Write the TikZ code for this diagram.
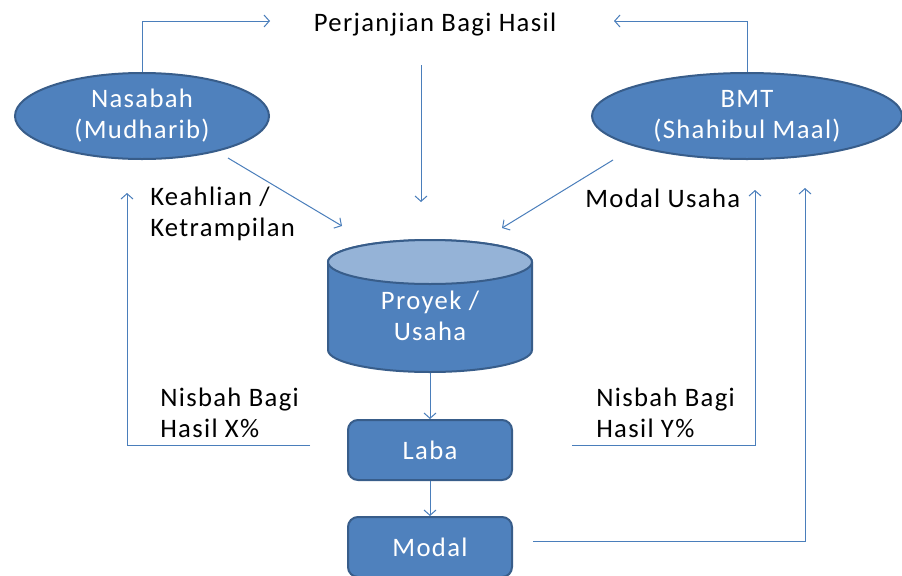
\documentclass[tikz,border=0pt]{standalone}
\usepackage{fontspec}
\setmainfont{Carlito}[LetterSpace=5]
\usetikzlibrary{arrows.meta,shapes.geometric}
\definecolor{fillblue}{HTML}{4F81BD}
\definecolor{edgeblue}{HTML}{385D8A}
\definecolor{lineblue}{HTML}{4A7EBB}
\definecolor{topblue}{HTML}{95B3D7}
\begin{document}
\begin{tikzpicture}[x=0.75pt,y=-0.75pt,
  blueshape/.style={fill=fillblue, draw=edgeblue, line width=1.5pt, text=white,
    font=\fontsize{20}{23.25}\selectfont, align=center},
  conn/.style={draw=lineblue, line width=0.75pt, -{Straight Barb[length=4pt,width=9pt]}},
  lbl/.style={font=\fontsize{20}{23.25}\selectfont, align=left, text=black, inner sep=0pt}]
\useasboundingbox (0,0) rectangle (902,575);
\fill[white] (0,0) rectangle (902,575);

% top label
\node[lbl] (pb) at (435,25) {Perjanjian Bagi Hasil};
\coordinate (pbL) at (270,21);
\coordinate (pbR) at (614,21);
\coordinate (pbD) at (421,65);

% ellipses
\node[blueshape, ellipse, minimum width=190.5pt, minimum height=64.5pt, inner sep=0pt] (nas) at (142,116) {Nasabah\\(Mudharib)};
\node[blueshape, ellipse, minimum width=232.5pt, minimum height=64.5pt, inner sep=0pt] (bmt) at (747,116) {BMT\\(Shahibul Maal)};

% cylinder
\path[fill=fillblue, draw=edgeblue, line width=1.5pt]
  (328,262) -- (328,350) arc (180:360:76.5pt and 16.5pt) -- (532,262) arc (0:180:76.5pt and 16.5pt) -- cycle;
\path[fill=topblue, draw=edgeblue, line width=1.5pt] (430,262) ellipse [x radius=76.5pt, y radius=16.5pt];
\node[blueshape, draw=none, fill=none] (proj) at (430,316) {Proyek /\\Usaha};
\coordinate (cylB) at (430,373);
\coordinate (cylL) at (342,226);
\coordinate (cylR) at (502,228);
\coordinate (cylT) at (421,202);

% boxes
\node[blueshape, rounded corners=7.5pt, minimum width=123pt, minimum height=45pt] (laba) at (430,450) {Laba};
\node[blueshape, rounded corners=7.5pt, minimum width=123pt, minimum height=45pt] (modal) at (430,547) {Modal};

% labels
\node[lbl, anchor=west] (keahlian) at (150,213.5) {Keahlian /\\Ketrampilan};
\node[lbl, anchor=west] (modalusaha) at (585,198) {Modal Usaha};
\node[lbl, anchor=west] (nisx) at (160,412.5) {Nisbah Bagi\\Hasil X\%};
\node[lbl, anchor=west] (nisy) at (596,412.5) {Nisbah Bagi\\Hasil Y\%};

% connectors
\draw[conn] (nas.north) |- (pbL);
\draw[conn] (bmt.north) |- (pbR);
\draw[conn] (pbD) -- (cylT);
\coordinate (nasOut) at (228,158);
\coordinate (bmtOut) at (613,160);
\draw[conn] (nasOut) -- (cylL);
\draw[conn] (bmtOut) -- (cylR);
\draw[conn] (cylB) -- (laba.north);
\draw[conn] (laba.south) -- (modal.north);

\coordinate (lxs) at (310,445);
\coordinate (lxe) at (127,193);
\coordinate (rxs) at (572,445);
\coordinate (rxe) at (755,190);
\coordinate (mxs) at (533,541);
\coordinate (mxe) at (805,188);
\draw[conn] (lxs) -| (lxe);
\draw[conn] (rxs) -| (rxe);
\draw[conn] (mxs) -| (mxe);
\end{tikzpicture}
\end{document}
